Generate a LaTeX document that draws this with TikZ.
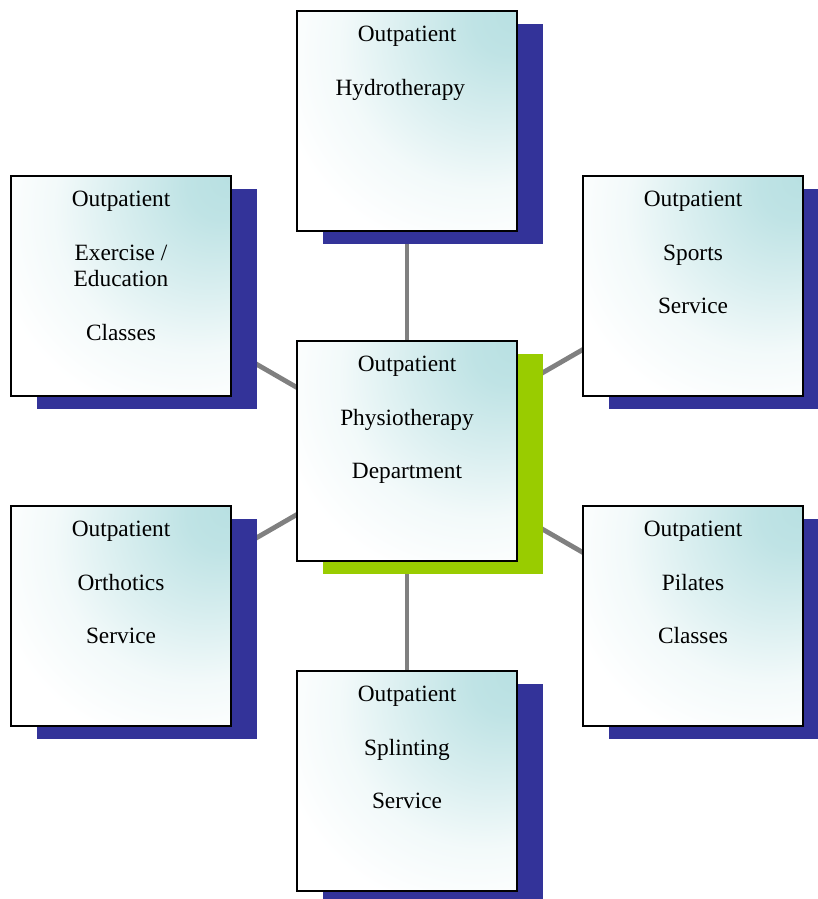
\documentclass[tikz,border=0pt]{standalone}
\usepackage{fontspec}
\setmainfont{Liberation Serif}
\usepackage{xcolor}
\usetikzlibrary{shadows}
\usetikzlibrary{backgrounds}

\definecolor{glowteal}{RGB}{184,224,226}
\definecolor{shadowblue}{RGB}{51,51,153}
\definecolor{shadowgreen}{RGB}{153,204,0}
\definecolor{linkgray}{RGB}{128,128,128}

\pgfdeclareradialshading{cornerglow}{\pgfpoint{25bp}{25bp}}{%
  color(0bp)=(glowteal); color(8bp)=(glowteal!90!white);
  color(20bp)=(glowteal!55!white); color(32bp)=(glowteal!18!white);
  color(44bp)=(white); color(100bp)=(white)}

\tikzset{
  svcbox/.style={draw=black, line width=1.5pt, shade, shading=cornerglow,
    minimum width=165pt, minimum height=165pt, inner sep=0pt,
    drop shadow={shadow xshift=19.5pt, shadow yshift=-9.75pt,
      fill=#1, opacity=1}},
  svcbox/.default=shadowblue,
  svctext/.style={anchor=north, yshift=-12pt, inner sep=0pt, align=center,
    font=\fontsize{17.5}{20}\selectfont},
  link/.style={draw=linkgray, line width=3.6pt}
}

\begin{document}
\begin{tikzpicture}[x=0.75pt,y=-0.75pt]
  \useasboundingbox (0,0) rectangle (817,899);

  \node[svcbox] (hydro) at (407,121) {};
  \node[svcbox] (exer) at (121,286) {};
  \node[svcbox] (sports) at (693,286) {};
  \node[svcbox=shadowgreen] (physio) at (407,451) {};
  \node[svcbox] (orth) at (121,616) {};
  \node[svcbox] (pilates) at (693,616) {};
  \node[svcbox] (splint) at (407,781) {};

  \node[svctext] (hydrot) at (hydro.north)
    {Outpatient\\[20pt]Hydrotherapy\hspace*{10pt}};
  \node[svctext] (exert) at (exer.north)
    {Outpatient\\[20pt]Exercise /\\Education\\[20pt]Classes};
  \node[svctext] (sportst) at (sports.north) {Outpatient\\[20pt]Sports\\[20pt]Service};
  \node[svctext] (physiot) at (physio.north)
    {Outpatient\\[20pt]Physiotherapy\\[20pt]Department};
  \node[svctext] (ortht) at (orth.north) {Outpatient\\[20pt]Orthotics\\[20pt]Service};
  \node[svctext] (pilatest) at (pilates.north) {Outpatient\\[20pt]Pilates\\[20pt]Classes};
  \node[svctext] (splintt) at (splint.north) {Outpatient\\[20pt]Splinting\\[20pt]Service};

  \begin{scope}[on background layer]
    \draw[link] (physio.center) -- (hydro.center);
    \draw[link] (physio.center) -- (exer.center);
    \draw[link] (physio.center) -- (sports.center);
    \draw[link] (physio.center) -- (orth.center);
    \draw[link] (physio.center) -- (pilates.center);
    \draw[link] (physio.center) -- (splint.center);
  \end{scope}
\end{tikzpicture}
\end{document}
